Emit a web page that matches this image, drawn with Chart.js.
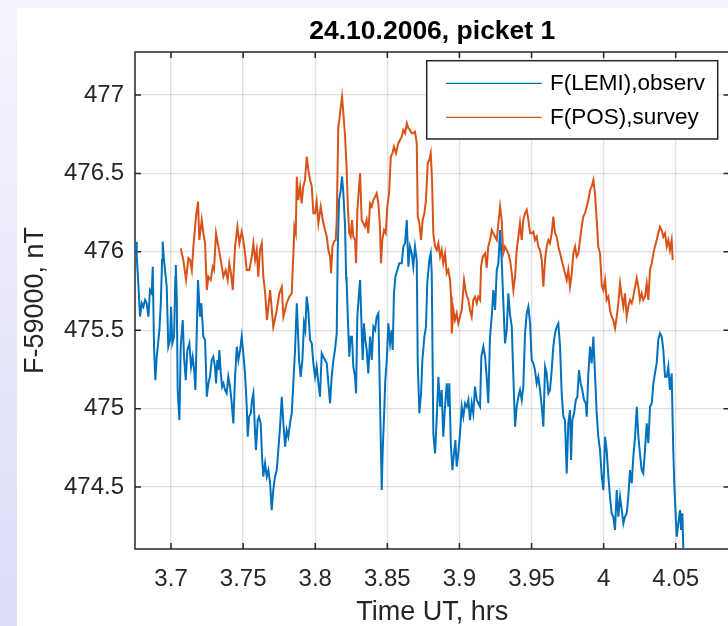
<!DOCTYPE html>
<html>
<head>
<meta charset="utf-8">
<title>24.10.2006, picket 1</title>
<script src="https://cdn.jsdelivr.net/npm/chart.js@4.4.1/dist/chart.umd.min.js"></script>
<style>
  html, body { margin: 0; padding: 0; width: 728px; height: 626px; overflow: hidden; }
  body { position: relative; background: linear-gradient(to bottom, #f4f4fd 0%, #dcdcf7 100%); }
  #panel { position: absolute; left: 17px; top: 8px; right: 0; bottom: 0; background: #ffffff; }
  #chart { position: absolute; left: 0; top: 0; }
</style>
</head>
<body>
<div id="panel"></div>
<canvas id="chart" width="760" height="626"></canvas>
<script>
// Total field minus 59000 nT, picket 1, 24.10.2006
// LEMI observatory record: time (UT, hours) and field (nT)
const timeLemi = [
  3.6757, 3.6762, 3.6773, 3.6785, 3.6797, 3.6808, 3.6820, 3.6831, 3.6843, 3.6854,
  3.6866, 3.6873, 3.6882, 3.6891, 3.6901, 3.6919, 3.6929, 3.6938, 3.6942, 3.6951,
  3.6970, 3.6981, 3.6993, 3.7000, 3.7009, 3.7021, 3.7030, 3.7033, 3.7040, 3.7046,
  3.7058, 3.7067, 3.7081, 3.7090, 3.7102, 3.7113, 3.7127, 3.7139, 3.7150, 3.7160,
  3.7169, 3.7178, 3.7187, 3.7201, 3.7210, 3.7224, 3.7236, 3.7248, 3.7259, 3.7270,
  3.7282, 3.7293, 3.7305, 3.7312, 3.7321, 3.7328, 3.7335, 3.7345, 3.7354, 3.7363,
  3.7374, 3.7386, 3.7397, 3.7409, 3.7421, 3.7432, 3.7444, 3.7456, 3.7467, 3.7479,
  3.7490, 3.7501, 3.7513, 3.7525, 3.7532, 3.7541, 3.7553, 3.7562, 3.7571, 3.7583,
  3.7589, 3.7601, 3.7610, 3.7622, 3.7631, 3.7640, 3.7652, 3.7664, 3.7675, 3.7687,
  3.7698, 3.7709, 3.7721, 3.7733, 3.7744, 3.7756, 3.7768, 3.7779, 3.7791, 3.7802,
  3.7813, 3.7825, 3.7837, 3.7848, 3.7860, 3.7872, 3.7879, 3.7888, 3.7899, 3.7911,
  3.7922, 3.7931, 3.7941, 3.7952, 3.7964, 3.7976, 3.7987, 3.7999, 3.8010, 3.8022,
  3.8033, 3.8045, 3.8056, 3.8068, 3.8080, 3.8091, 3.8103, 3.8114, 3.8126, 3.8137,
  3.8149, 3.8156, 3.8165, 3.8177, 3.8186, 3.8195, 3.8207, 3.8214, 3.8218, 3.8230,
  3.8236, 3.8246, 3.8255, 3.8264, 3.8276, 3.8283, 3.8292, 3.8302, 3.8311, 3.8322,
  3.8329, 3.8338, 3.8347, 3.8357, 3.8368, 3.8380, 3.8392, 3.8403, 3.8415, 3.8426,
  3.8438, 3.8444, 3.8454, 3.8461, 3.8468, 3.8477, 3.8486, 3.8496, 3.8507, 3.8519,
  3.8530, 3.8537, 3.8546, 3.8556, 3.8569, 3.8583, 3.8600, 3.8611, 3.8623, 3.8635,
  3.8646, 3.8657, 3.8669, 3.8680, 3.8692, 3.8704, 3.8711, 3.8722, 3.8734, 3.8743,
  3.8757, 3.8768, 3.8777, 3.8791, 3.8801, 3.8808, 3.8819, 3.8831, 3.8843, 3.8854,
  3.8866, 3.8877, 3.8888, 3.8900, 3.8912, 3.8923, 3.8930, 3.8940, 3.8951, 3.8960,
  3.8972, 3.8981, 3.8992, 3.9004, 3.9016, 3.9027, 3.9039, 3.9051, 3.9062, 3.9073,
  3.9085, 3.9096, 3.9108, 3.9120, 3.9131, 3.9143, 3.9152, 3.9166, 3.9178, 3.9189,
  3.9200, 3.9212, 3.9224, 3.9235, 3.9247, 3.9259, 3.9270, 3.9282, 3.9293, 3.9304,
  3.9316, 3.9328, 3.9339, 3.9351, 3.9363, 3.9374, 3.9386, 3.9397, 3.9409, 3.9420,
  3.9432, 3.9443, 3.9455, 3.9467, 3.9478, 3.9490, 3.9501, 3.9513, 3.9524, 3.9536,
  3.9547, 3.9559, 3.9571, 3.9582, 3.9594, 3.9605, 3.9617, 3.9628, 3.9640, 3.9651,
  3.9663, 3.9675, 3.9686, 3.9698, 3.9709, 3.9721, 3.9732, 3.9744, 3.9755, 3.9767,
  3.9774, 3.9783, 3.9795, 3.9807, 3.9818, 3.9829, 3.9841, 3.9852, 3.9864, 3.9876,
  3.9883, 3.9894, 3.9906, 3.9917, 3.9929, 3.9940, 3.9952, 3.9963, 3.9975, 3.9987,
  3.9998, 4.0010, 4.0021, 4.0033, 4.0044, 4.0056, 4.0067, 4.0079, 4.0091, 4.0102,
  4.0114, 4.0126, 4.0137, 4.0148, 4.0160, 4.0171, 4.0183, 4.0195, 4.0206, 4.0218,
  4.0230, 4.0241, 4.0252, 4.0264, 4.0275, 4.0287, 4.0299, 4.0310, 4.0322, 4.0334,
  4.0345, 4.0356, 4.0368, 4.0379, 4.0391, 4.0403, 4.0414, 4.0426, 4.0438, 4.0449,
  4.0460, 4.0472, 4.0483, 4.0490, 4.0500, 4.0507, 4.0518, 4.0530, 4.0537, 4.0546,
  4.0553
];
const fLemi = [
  476.063, 475.969, 475.799, 475.586, 475.672, 475.650, 475.693, 475.672, 475.586, 475.756,
  475.735, 475.905, 475.395, 475.182, 475.331, 475.501, 475.672, 475.948, 476.065, 475.948,
  475.777, 475.395, 475.438, 475.650, 475.416, 475.459, 475.841, 475.916, 475.693, 475.119,
  474.927, 475.395, 475.565, 475.331, 475.182, 475.374, 475.416, 475.267, 475.331, 475.246,
  475.119, 475.480, 475.820, 475.586, 475.672, 475.459, 475.438, 475.076, 475.161, 475.203,
  475.310, 475.331, 475.267, 475.161, 475.310, 475.246, 475.374, 475.225, 475.140, 475.161,
  475.119, 475.098, 475.203, 475.140, 475.034, 474.906, 475.203, 475.395, 475.310, 475.374,
  475.459, 475.353, 475.225, 475.012, 474.821, 474.948, 474.970, 475.055, 475.098, 474.842,
  474.736, 474.927, 474.948, 474.906, 474.693, 474.566, 474.651, 474.566, 474.608, 474.524,
  474.353, 474.481, 474.566, 474.608, 474.736, 474.885, 475.076, 474.906, 474.757, 474.863,
  474.821, 474.906, 474.970, 475.161, 475.374, 475.672, 475.522, 475.310, 475.203, 475.310,
  475.544, 475.501, 475.714, 475.629, 475.438, 475.416, 475.289, 475.203, 475.267, 475.161,
  475.076, 475.353, 475.331, 475.310, 475.289, 475.161, 475.034, 475.203, 475.310, 475.374,
  475.480, 476.011, 476.330, 476.394, 476.479, 476.373, 476.160, 475.841, 475.799, 475.480,
  475.331, 475.459, 475.459, 475.267, 475.203, 475.098, 475.586, 475.714, 475.820, 475.501,
  475.310, 475.544, 475.438, 475.374, 475.225, 475.459, 475.310, 475.522, 475.501, 475.586,
  475.608, 475.310, 474.821, 474.481, 474.736, 474.948, 475.182, 475.310, 475.544, 475.416,
  475.501, 475.374, 475.735, 475.841, 475.884, 475.927, 475.927, 476.033, 476.054, 476.203,
  475.905, 476.033, 475.990, 475.905, 476.033, 475.948, 475.289, 474.970, 475.098, 475.310,
  475.459, 475.522, 475.799, 475.948, 475.990, 475.863, 474.842, 474.715, 474.948, 475.203,
  475.012, 475.119, 474.821, 475.012, 475.161, 475.012, 475.161, 474.779, 474.608, 474.693,
  474.800, 474.630, 474.715, 474.842, 475.012, 474.948, 475.034, 475.012, 475.055, 474.927,
  475.034, 474.970, 475.140, 475.055, 475.034, 475.012, 475.331, 475.395, 475.331, 475.203,
  475.034, 475.459, 475.586, 475.756, 475.629, 475.884, 475.927, 476.139, 475.948, 475.693,
  475.416, 475.501, 475.735, 475.597, 475.522, 475.203, 474.885, 475.012, 475.076, 475.119,
  475.055, 475.140, 475.480, 475.608, 475.650, 475.544, 475.310, 475.289, 475.246, 475.161,
  475.203, 475.119, 475.012, 474.885, 475.267, 475.225, 475.098, 475.119, 475.246, 475.395,
  475.480, 475.522, 475.544, 475.395, 475.098, 474.948, 474.927, 474.587, 474.906, 474.991,
  474.672, 474.927, 474.970, 475.055, 475.076, 475.246, 475.161, 475.119, 475.055, 475.034,
  474.948, 475.225, 475.395, 475.289, 475.459, 475.225, 474.970, 474.821, 474.736, 474.566,
  474.481, 474.821, 474.736, 474.566, 474.438, 474.332, 474.311, 474.226, 474.481, 474.311,
  474.438, 474.353, 474.268, 474.311, 474.332, 474.438, 474.608, 474.524, 474.693, 474.821,
  475.012, 474.821, 474.715, 474.608, 474.587, 474.736, 474.906, 474.779, 475.012, 475.034,
  475.161, 475.225, 475.289, 475.438, 475.480, 475.459, 475.374, 475.203, 475.203, 475.267,
  475.119, 475.225, 474.736, 474.524, 474.311, 474.183, 474.268, 474.353, 474.226, 474.332,
  474.098
];

// POS survey magnetometer record: time (UT, hours) and field (nT)
const timePos = [
  3.7067, 3.7085, 3.7104, 3.7120, 3.7132, 3.7144, 3.7155, 3.7173, 3.7187, 3.7196,
  3.7213, 3.7224, 3.7236, 3.7248, 3.7259, 3.7275, 3.7289, 3.7298, 3.7312, 3.7328,
  3.7345, 3.7363, 3.7379, 3.7393, 3.7404, 3.7416, 3.7428, 3.7444, 3.7460, 3.7474,
  3.7490, 3.7501, 3.7513, 3.7525, 3.7543, 3.7560, 3.7571, 3.7583, 3.7594, 3.7605,
  3.7617, 3.7629, 3.7640, 3.7653, 3.7665, 3.7687, 3.7709, 3.7733, 3.7751, 3.7768,
  3.7779, 3.7802, 3.7820, 3.7837, 3.7844, 3.7848, 3.7855, 3.7865, 3.7872, 3.7883,
  3.7895, 3.7906, 3.7917, 3.7929, 3.7941, 3.7952, 3.7964, 3.7976, 3.7987, 3.7999,
  3.8010, 3.8022, 3.8038, 3.8052, 3.8068, 3.8080, 3.8091, 3.8103, 3.8110, 3.8119,
  3.8130, 3.8142, 3.8149, 3.8160, 3.8167, 3.8177, 3.8186, 3.8195, 3.8207, 3.8218,
  3.8227, 3.8236, 3.8246, 3.8255, 3.8264, 3.8276, 3.8283, 3.8292, 3.8304, 3.8311,
  3.8322, 3.8334, 3.8345, 3.8357, 3.8368, 3.8380, 3.8392, 3.8403, 3.8415, 3.8426,
  3.8438, 3.8449, 3.8456, 3.8465, 3.8477, 3.8489, 3.8500, 3.8512, 3.8524, 3.8535,
  3.8546, 3.8560, 3.8576, 3.8588, 3.8600, 3.8611, 3.8623, 3.8635, 3.8646, 3.8657,
  3.8669, 3.8680, 3.8692, 3.8704, 3.8711, 3.8722, 3.8734, 3.8745, 3.8757, 3.8768,
  3.8780, 3.8791, 3.8801, 3.8810, 3.8819, 3.8831, 3.8843, 3.8854, 3.8866, 3.8877,
  3.8888, 3.8900, 3.8912, 3.8923, 3.8935, 3.8942, 3.8947, 3.8958, 3.8969, 3.8981,
  3.8992, 3.9004, 3.9016, 3.9032, 3.9046, 3.9062, 3.9073, 3.9085, 3.9096, 3.9108,
  3.9120, 3.9131, 3.9143, 3.9150, 3.9162, 3.9178, 3.9189, 3.9200, 3.9212, 3.9224,
  3.9235, 3.9247, 3.9259, 3.9270, 3.9282, 3.9293, 3.9304, 3.9316, 3.9328, 3.9339,
  3.9351, 3.9363, 3.9374, 3.9386, 3.9397, 3.9409, 3.9420, 3.9432, 3.9443, 3.9455,
  3.9467, 3.9478, 3.9490, 3.9501, 3.9513, 3.9524, 3.9536, 3.9547, 3.9559, 3.9571,
  3.9582, 3.9594, 3.9605, 3.9617, 3.9628, 3.9640, 3.9651, 3.9663, 3.9675, 3.9686,
  3.9698, 3.9709, 3.9721, 3.9732, 3.9744, 3.9755, 3.9767, 3.9779, 3.9790, 3.9802,
  3.9813, 3.9825, 3.9836, 3.9848, 3.9859, 3.9871, 3.9883, 3.9894, 3.9906, 3.9917,
  3.9929, 3.9940, 3.9952, 3.9963, 3.9975, 3.9987, 3.9998, 4.0010, 4.0021, 4.0033,
  4.0044, 4.0056, 4.0067, 4.0079, 4.0091, 4.0102, 4.0114, 4.0126, 4.0137, 4.0148,
  4.0160, 4.0171, 4.0183, 4.0195, 4.0206, 4.0218, 4.0230, 4.0241, 4.0252, 4.0264,
  4.0275, 4.0287, 4.0299, 4.0310, 4.0322, 4.0334, 4.0345, 4.0356, 4.0368, 4.0379,
  4.0391, 4.0403, 4.0414, 4.0426, 4.0438, 4.0449, 4.0460, 4.0472, 4.0479
];
const fPos = [
  476.022, 475.948, 475.820, 475.960, 475.948, 475.884, 476.033, 476.224, 476.320, 476.075,
  476.203, 476.118, 476.054, 475.756, 475.841, 475.820, 475.905, 475.884, 476.118, 476.033,
  475.948, 475.841, 475.884, 475.820, 475.927, 475.863, 475.756, 476.033, 476.160, 476.054,
  476.128, 476.075, 475.990, 475.884, 475.884, 475.969, 476.054, 475.948, 476.011, 475.841,
  476.011, 476.054, 475.841, 475.735, 475.565, 475.756, 475.522, 475.629, 475.735, 475.777,
  475.586, 475.672, 475.714, 475.735, 475.905, 475.969, 476.160, 476.118, 476.479, 476.330,
  476.415, 476.309, 476.415, 476.458, 476.607, 476.522, 476.458, 476.415, 476.246, 476.246,
  476.320, 476.182, 476.288, 476.203, 476.139, 476.096, 476.011, 475.969, 475.863, 476.033,
  476.065, 476.075, 476.203, 476.798, 476.841, 476.925, 476.989, 476.883, 476.734, 476.522,
  476.267, 476.118, 476.096, 476.203, 476.096, 476.075, 475.927, 476.267, 476.415, 476.501,
  476.203, 476.182, 476.160, 476.203, 476.118, 476.309, 476.288, 476.330, 476.351, 476.373,
  476.309, 476.160, 475.927, 476.075, 476.139, 476.118, 476.288, 476.373, 476.607, 476.628,
  476.670, 476.628, 476.692, 476.713, 476.734, 476.777, 476.756, 476.820, 476.788, 476.777,
  476.756, 476.756, 476.766, 476.692, 476.224, 476.182, 476.075, 476.203, 476.246, 476.330,
  476.564, 476.585, 476.628, 476.458, 476.118, 476.033, 476.011, 476.054, 475.969, 476.011,
  475.927, 475.990, 475.863, 475.884, 475.820, 475.714, 475.480, 475.629, 475.565, 475.608,
  475.544, 475.586, 475.629, 475.820, 475.735, 475.693, 475.629, 475.586, 475.693, 475.714,
  475.672, 475.714, 475.693, 475.905, 475.969, 475.990, 475.897, 476.033, 476.075, 476.139,
  476.118, 476.096, 476.075, 476.182, 476.288, 476.203, 475.990, 476.033, 476.011, 475.990,
  475.948, 475.863, 475.756, 475.841, 476.011, 476.096, 476.182, 476.075, 476.203, 476.246,
  476.267, 476.203, 476.118, 476.118, 476.128, 476.075, 476.096, 476.033, 476.011, 475.948,
  475.777, 475.948, 476.033, 476.075, 476.054, 476.118, 476.224, 476.118, 476.096, 476.033,
  475.990, 475.948, 475.905, 475.863, 475.820, 475.884, 475.777, 475.863, 475.990, 476.033,
  475.969, 475.990, 476.075, 476.160, 476.224, 476.246, 476.288, 476.330, 476.394, 476.415,
  476.458, 476.373, 476.203, 476.033, 475.990, 475.788, 475.756, 475.820, 475.693, 475.714,
  475.629, 475.586, 475.565, 475.512, 475.586, 475.672, 475.799, 475.714, 475.650, 475.735,
  475.586, 475.650, 475.693, 475.672, 475.714, 475.777, 475.831, 475.777, 475.693, 475.735,
  475.693, 475.714, 475.799, 475.693, 475.884, 475.927, 475.990, 476.033, 476.075, 476.118,
  476.160, 476.139, 476.096, 476.118, 476.033, 476.075, 476.011, 476.075, 475.948
];

const seriesLabels = ['F(LEMI),observ', 'F(POS),survey'];
const xTickValues = [3.7, 3.75, 3.8, 3.85, 3.9, 3.95, 4, 4.05];
const yTickValues = [474.5, 475, 475.5, 476, 476.5, 477];

const FONT = '"Liberation Sans", Arial, Helvetica, sans-serif';
const AXIS_COLOR = '#262626';
const GRID_COLOR = 'rgba(38, 38, 38, 0.15)';
const BLUE = '#0072BD';
const ORANGE = '#D95319';
const TICK_LEN = 6;

// Inward ticks on all four sides plus the full axes box
const axesBox = {
  id: 'axesBox',
  beforeDatasetsDraw(chart) {
    const { ctx, chartArea: a, scales: { x, y } } = chart;
    ctx.save();
    ctx.strokeStyle = AXIS_COLOR;
    ctx.lineWidth = 1.5;
    ctx.beginPath();
    ctx.rect(a.left, a.top, a.right - a.left, a.bottom - a.top);
    x.ticks.forEach(t => {
      const px = x.getPixelForValue(t.value);
      ctx.moveTo(px, a.bottom); ctx.lineTo(px, a.bottom - TICK_LEN);
      ctx.moveTo(px, a.top); ctx.lineTo(px, a.top + TICK_LEN);
    });
    y.ticks.forEach(t => {
      const py = y.getPixelForValue(t.value);
      ctx.moveTo(a.left, py); ctx.lineTo(a.left + TICK_LEN, py);
      ctx.moveTo(a.right, py); ctx.lineTo(a.right - TICK_LEN, py);
    });
    ctx.stroke();
    ctx.restore();
  }
};

// Boxed legend in the upper right corner of the axes
const legendBox = {
  id: 'legendBox',
  afterDatasetsDraw(chart) {
    const { ctx, chartArea: a } = chart;
    const w = 291, h = 78.3;
    const x0 = a.right - 11.8 - w;
    const y0 = a.top + 8.7;
    ctx.save();
    ctx.fillStyle = '#ffffff';
    ctx.fillRect(x0, y0, w, h);
    ctx.strokeStyle = AXIS_COLOR;
    ctx.lineWidth = 1.5;
    ctx.strokeRect(x0, y0, w, h);
    ctx.font = '22.5px ' + FONT;
    ctx.textBaseline = 'middle';
    ctx.textAlign = 'left';
    chart.data.datasets.forEach((ds, i) => {
      const cy = y0 + 22.6 + i * 34;
      ctx.strokeStyle = ds.borderColor;
      ctx.lineWidth = 1.3;
      ctx.beginPath();
      ctx.moveTo(x0 + 19.3, cy);
      ctx.lineTo(x0 + 115, cy);
      ctx.stroke();
      ctx.fillStyle = '#000000';
      ctx.fillText(ds.label, x0 + 123.3, cy);
    });
    ctx.restore();
  }
};

const toPoints = (xs, ys) => xs.map((t, i) => ({ x: t, y: ys[i] }));

new Chart(document.getElementById('chart'), {
  type: 'line',
  data: {
    datasets: [
      {
        label: seriesLabels[0],
        data: toPoints(timeLemi, fLemi),
        borderColor: BLUE,
        backgroundColor: BLUE,
        borderWidth: 2,
        pointRadius: 0,
        tension: 0,
        fill: false
      },
      {
        label: seriesLabels[1],
        data: toPoints(timePos, fPos),
        borderColor: ORANGE,
        backgroundColor: ORANGE,
        borderWidth: 2,
        pointRadius: 0,
        tension: 0,
        fill: false
      }
    ]
  },
  options: {
    responsive: false,
    devicePixelRatio: 1,
    animation: false,
    events: [],
    layout: { padding: { left: 0, right: 30.5, top: 0, bottom: 0 } },
    plugins: {
      legend: { display: false },
      tooltip: { enabled: false },
      title: {
        display: true,
        text: '24.10.2006, picket 1',
        color: '#000000',
        fullSize: false,
        font: { family: FONT, size: 26.5, weight: 'bold', lineHeight: 1 },
        padding: { top: 18.75, bottom: 6.75 }
      }
    },
    scales: {
      x: {
        type: 'linear',
        position: 'bottom',
        min: 3.675,
        max: 4.0873,
        afterBuildTicks: s => { s.ticks = xTickValues.map(v => ({ value: v })); },
        afterFit: s => { s.height = 77; },
        border: { display: false },
        grid: { color: GRID_COLOR, lineWidth: 1.3, drawTicks: false },
        ticks: {
          autoSkip: false,
          maxRotation: 0,
          padding: 16.4,
          color: AXIS_COLOR,
          font: { family: FONT, size: 24 },
          callback: v => String(v)
        },
        title: {
          display: true,
          text: 'Time UT, hrs',
          color: AXIS_COLOR,
          font: { family: FONT, size: 27, lineHeight: 1 },
          padding: { top: 0, bottom: 0 }
        }
      },
      y: {
        type: 'linear',
        position: 'left',
        min: 474.105,
        max: 477.274,
        afterBuildTicks: s => { s.ticks = yTickValues.map(v => ({ value: v })); },
        afterFit: s => { s.width = 135; },
        border: { display: false },
        grid: { color: GRID_COLOR, lineWidth: 1.3, drawTicks: false },
        ticks: {
          autoSkip: false,
          padding: 11,
          color: AXIS_COLOR,
          font: { family: FONT, size: 24 },
          callback: v => String(v)
        },
        title: {
          display: true,
          text: 'F-59000, nT',
          color: AXIS_COLOR,
          font: { family: FONT, size: 27, lineHeight: 1 },
          padding: { top: 22, bottom: 0 }
        }
      }
    }
  },
  plugins: [axesBox, legendBox]
});
</script>
</body>
</html>
